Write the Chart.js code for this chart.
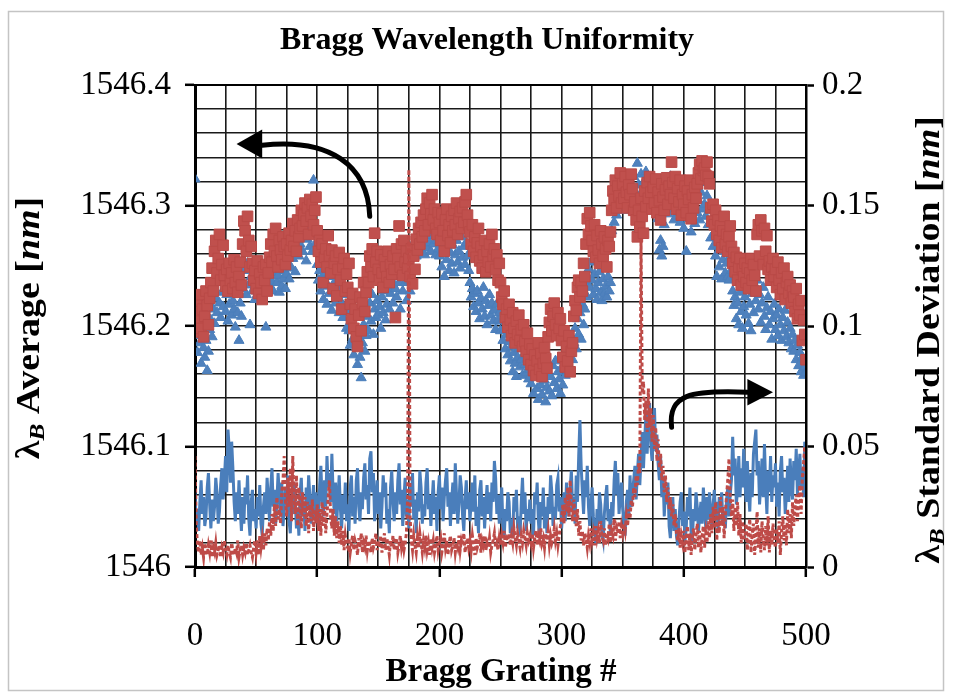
<!DOCTYPE html>
<html>
<head>
<meta charset="utf-8">
<title>Bragg Wavelength Uniformity</title>
<script src="https://cdn.jsdelivr.net/npm/chart.js@4.4.1/dist/chart.umd.min.js"></script>
<style>
  html, body { margin: 0; padding: 0; background: #fff; }
  #wrap { position: relative; width: 954px; height: 698px; }
</style>
</head>
<body>
<div id="wrap"><canvas id="bragg-chart"></canvas></div>
<script>
// grating index along the fibre
const gratings = Array.from({ length: 501 }, (_, i) => i);

// average Bragg wavelength, run 1 (nm)
const avgBlue = [
  1546.322,1546.192,1546.178,1546.201,1546.186,1546.169,1546.195,1546.182,1546.174,1546.188,1546.163,1546.179,1546.197,1546.205,1546.191,1546.214,1546.202,1546.223,1546.211,1546.236,1546.219,1546.207,1546.228,1546.216,1546.243,
  1546.212,1546.226,1546.204,1546.218,1546.232,1546.209,1546.221,1546.214,1546.199,1546.227,1546.211,1546.188,1546.219,1546.208,1546.231,1546.246,1546.278,1546.226,1546.252,1546.234,1546.201,1546.241,1546.229,1546.238,1546.222,
  1546.235,1546.226,1546.247,1546.231,1546.222,1546.238,1546.243,1546.229,1546.199,1546.236,1546.241,1546.232,1546.248,1546.237,1546.229,1546.244,1546.251,1546.236,1546.242,1546.228,1546.247,1546.233,1546.239,1546.246,1546.231,
  1546.243,1546.252,1546.239,1546.261,1546.248,1546.256,1546.271,1546.245,1546.263,1546.279,1546.258,1546.268,1546.283,1546.262,1546.276,1546.287,1546.254,1546.272,1546.281,1546.266,1546.276,1546.262,1546.321,1546.284,1546.269,
  1546.251,1546.238,1546.246,1546.229,1546.241,1546.222,1546.236,1546.244,1546.218,1546.233,1546.227,1546.241,1546.213,1546.229,1546.236,1546.219,1546.232,1546.224,1546.211,1546.228,1546.219,1546.207,1546.226,1546.216,1546.198,
  1546.211,1546.196,1546.184,1546.204,1546.189,1546.176,1546.197,1546.182,1546.168,1546.191,1546.174,1546.157,1546.186,1546.201,1546.179,1546.192,1546.208,1546.196,1546.219,1546.204,1546.226,1546.193,1546.214,1546.207,1546.221,
  1546.209,1546.216,1546.198,1546.224,1546.211,1546.229,1546.205,1546.218,1546.232,1546.214,1546.227,1546.238,1546.219,1546.246,1546.231,1546.224,1546.252,1546.236,1546.214,1546.241,1546.229,1546.247,1546.236,1546.221,1546.243,
  1546.238,1546.229,1546.246,1546.257,1546.262,1546.271,1546.258,1546.266,1546.274,1546.261,1546.279,1546.268,1546.272,1546.259,1546.276,1546.265,1546.281,1546.269,1546.262,1546.275,1546.268,1546.277,1546.259,1546.271,1546.264,
  1546.258,1546.272,1546.249,1546.263,1546.241,1546.268,1546.255,1546.274,1546.246,1546.261,1546.252,1546.267,1546.244,1546.259,1546.271,1546.253,1546.262,1546.248,1546.274,1546.257,1546.266,1546.251,1546.269,1546.258,1546.246,
  1546.236,1546.224,1546.231,1546.216,1546.227,1546.212,1546.229,1546.219,1546.206,1546.223,1546.214,1546.232,1546.208,1546.221,1546.201,1546.217,1546.226,1546.209,1546.219,1546.204,1546.213,1546.197,1546.218,1546.205,1546.211,
  1546.196,1546.204,1546.188,1546.197,1546.181,1546.193,1546.176,1546.187,1546.171,1546.183,1546.162,1546.178,1546.169,1546.158,1546.174,1546.181,1546.166,1546.172,1546.159,1546.176,1546.168,1546.161,1546.173,1546.156,1546.164,
  1546.152,1546.166,1546.144,1546.158,1546.171,1546.148,1546.139,1546.162,1546.151,1546.143,1546.168,1546.155,1546.137,1546.149,1546.161,1546.146,1546.158,1546.142,1546.167,1546.153,1546.171,1546.148,1546.162,1546.156,1546.144,
  1546.165,1546.151,1546.174,1546.159,1546.168,1546.182,1546.163,1546.177,1546.191,1546.172,1546.186,1546.198,1546.181,1546.206,1546.193,1546.211,1546.189,1546.218,1546.201,1546.214,1546.236,1546.224,1546.247,1546.232,1546.253,
  1546.238,1546.226,1546.243,1546.231,1546.222,1546.236,1546.245,1546.228,1546.221,1546.239,1546.227,1546.233,1546.224,1546.241,1546.229,1546.236,1546.279,1546.298,1546.286,1546.304,1546.292,1546.311,1546.297,1546.318,1546.303,
  1546.309,1546.296,1546.314,1546.302,1546.321,1546.306,1546.299,1546.316,1546.308,1546.324,1546.311,1546.302,1546.335,1546.317,1546.306,1546.326,1546.312,1546.319,1546.304,1546.328,1546.314,1546.307,1546.322,1546.309,1546.316,
  1546.305,1546.318,1546.296,1546.311,1546.289,1546.263,1546.271,1546.258,1546.266,1546.284,1546.302,1546.316,1546.293,1546.309,1546.324,1546.297,1546.312,1546.288,1546.305,1546.318,1546.294,1546.307,1546.286,1546.314,1546.299,
  1546.281,1546.296,1546.262,1546.305,1546.289,1546.312,1546.278,1546.298,1546.307,1546.285,1546.316,1546.294,1546.304,1546.288,1546.311,1546.297,1546.319,1546.301,1546.291,1546.308,1546.284,1546.296,1546.273,1546.288,1546.266,
  1546.276,1546.258,1546.241,1546.267,1546.249,1546.271,1546.239,1546.255,1546.262,1546.244,1546.252,1546.241,1546.238,1546.258,1546.246,1546.229,1546.217,1546.224,1546.206,1546.219,1546.201,1546.228,1546.212,1546.198,1546.216,
  1546.224,1546.209,1546.231,1546.202,1546.218,1546.196,1546.227,1546.211,1546.234,1546.221,1546.238,1546.214,1546.226,1546.203,1546.219,1546.232,1546.208,1546.197,1546.215,1546.224,1546.201,1546.212,1546.189,1546.206,1546.218,
  1546.197,1546.209,1546.192,1546.214,1546.201,1546.188,1546.207,1546.196,1546.213,1546.191,1546.203,1546.186,1546.198,1546.181,1546.193,1546.179,1546.188,1546.172,1546.184,1546.167,1546.178,1546.162,1546.174,1546.159,1546.166,
  1546.161
];

// average Bragg wavelength, run 2 (nm)
const avgRed = [
  1546.212,1546.195,1546.221,1546.204,1546.226,1546.198,1546.214,1546.191,1546.208,1546.229,1546.217,1546.201,1546.223,1546.236,1546.248,1546.229,1546.262,1546.271,1546.244,1546.256,1546.276,1546.238,1546.251,1546.267,1546.242,
  1546.233,1546.247,1546.229,1546.252,1546.238,1546.244,1546.231,1546.255,1546.236,1546.249,1546.228,1546.241,1546.253,1546.234,1546.268,1546.287,1546.279,1546.262,1546.291,1546.271,1546.249,1546.266,1546.252,1546.238,1546.246,
  1546.231,1546.254,1546.227,1546.243,1546.236,1546.222,1546.249,1546.238,1546.251,1546.229,1546.244,1546.257,1546.268,1546.253,1546.276,1546.262,1546.281,1546.258,1546.249,1546.271,1546.263,1546.255,1546.274,1546.266,1546.251,
  1546.268,1546.258,1546.277,1546.263,1546.271,1546.285,1546.266,1546.279,1546.262,1546.288,1546.274,1546.281,1546.296,1546.283,1546.292,1546.302,1546.287,1546.298,1546.276,1546.305,1546.291,1546.301,1546.284,1546.296,1546.307,
  1546.279,1546.262,1546.271,1546.253,1546.268,1546.236,1546.257,1546.264,1546.249,1546.275,1546.258,1546.244,1546.263,1546.231,1546.252,1546.258,1546.225,1546.247,1546.261,1546.238,1546.214,1546.249,1546.256,1546.229,1546.243,
  1546.232,1546.252,1546.218,1546.206,1546.227,1546.198,1546.214,1546.191,1546.183,1546.209,1546.224,1546.196,1546.219,1546.236,1546.212,1546.228,1546.245,1546.236,1546.258,1546.249,1546.264,1546.241,1546.277,1546.253,1546.262,
  1546.247,1546.238,1546.259,1546.244,1546.232,1546.255,1546.249,1546.241,1546.262,1546.236,1546.251,1546.243,1546.258,1546.247,1546.207,1546.264,1546.256,1546.283,1546.249,1546.268,1546.242,1546.271,1546.253,1546.262,1546.248,
  1546.256,1546.241,1546.264,1546.235,1546.258,1546.247,1546.272,1546.263,1546.281,1546.268,1546.286,1546.274,1546.292,1546.279,1546.297,1546.306,1546.284,1546.302,1546.293,1546.309,1546.288,1546.297,1546.281,1546.276,1546.294,
  1546.286,1546.271,1546.293,1546.279,1546.262,1546.288,1546.297,1546.275,1546.284,1546.269,1546.291,1546.279,1546.296,1546.284,1546.302,1546.276,1546.289,1546.295,1546.281,1546.298,1546.286,1546.303,1546.309,1546.292,1546.284,
  1546.278,1546.268,1546.284,1546.262,1546.274,1546.257,1546.269,1546.281,1546.254,1546.266,1546.248,1546.259,1546.271,1546.245,1546.262,1546.253,1546.268,1546.249,1546.276,1546.258,1546.264,1546.247,1546.259,1546.238,1546.252,
  1546.236,1546.224,1546.218,1546.229,1546.207,1546.214,1546.199,1546.218,1546.205,1546.192,1546.211,1546.198,1546.186,1546.204,1546.193,1546.209,1546.188,1546.197,1546.183,1546.201,1546.187,1546.179,1546.194,1546.172,1546.185,
  1546.168,1546.181,1546.163,1546.176,1546.159,1546.171,1546.186,1546.164,1546.177,1546.158,1546.169,1546.182,1546.173,1546.165,1546.191,1546.203,1546.214,1546.196,1546.208,1546.219,1546.201,1546.192,1546.211,1546.198,1546.206,
  1546.188,1546.174,1546.196,1546.166,1546.183,1546.171,1546.192,1546.162,1546.179,1546.186,1546.208,1546.221,1546.213,1546.232,1546.238,1546.224,1546.236,1546.229,1546.252,1546.241,1546.268,1546.289,1546.276,1546.294,1546.283,
  1546.271,1546.262,1546.284,1546.257,1546.275,1546.263,1546.252,1546.279,1546.268,1546.258,1546.274,1546.264,1546.249,1546.271,1546.266,1546.278,1546.296,1546.312,1546.305,1546.321,1546.298,1546.316,1546.308,1546.327,1546.302,
  1546.318,1546.306,1546.324,1546.311,1546.298,1546.317,1546.309,1546.326,1546.314,1546.296,1546.303,1546.288,1546.274,1546.296,1546.282,1546.306,1546.291,1546.277,1546.312,1546.299,1546.319,1546.306,1546.324,1546.311,1546.297,
  1546.315,1546.302,1546.322,1546.294,1546.311,1546.304,1546.288,1546.318,1546.307,1546.296,1546.313,1546.323,1546.301,1546.316,1546.309,1546.336,1546.319,1546.306,1546.324,1546.297,1546.314,1546.303,1546.321,1546.292,1546.309,
  1546.301,1546.316,1546.294,1546.312,1546.305,1546.321,1546.289,1546.309,1546.298,1546.315,1546.306,1546.318,1546.327,1546.334,1546.322,1546.337,1546.329,1546.331,1546.325,1546.336,1546.324,1546.318,1546.298,1546.287,1546.301,
  1546.284,1546.296,1546.276,1546.288,1546.271,1546.283,1546.265,1546.279,1546.291,1546.268,1546.276,1546.262,1546.274,1546.283,1546.266,1546.252,1546.261,1546.245,1546.257,1546.238,1546.249,1546.256,1546.234,1546.247,1546.241,
  1546.252,1546.236,1546.248,1546.231,1546.244,1546.256,1546.238,1546.251,1546.242,1546.229,1546.276,1546.284,1546.258,1546.288,1546.279,1546.251,1546.281,1546.262,1546.275,1546.247,1546.254,1546.238,1546.249,1546.256,1546.241,
  1546.247,1546.232,1546.253,1546.238,1546.226,1546.244,1546.231,1546.248,1546.222,1546.236,1546.241,1546.227,1546.234,1546.219,1546.229,1546.224,1546.212,1546.231,1546.206,1546.218,1546.209,1546.221,1546.188,1546.205,1546.193,
  1546.172
];

// standard deviation of the Bragg wavelength, run 1 (nm)
const stdBlue = [
  .031,.018,.024,.015,.027,.036,.022,.029,.017,.021,.033,.039,.026,.016,.028,.019,.025,.037,.031,.018,.023,.034,.041,.028,.036,
  .046,.031,.057,.049,.035,.052,.041,.027,.019,.031,.022,.036,.024,.015,.029,.018,.033,.026,.038,.02,.013,.027,.032,.019,.024,
  .016,.029,.021,.034,.018,.013,.025,.031,.022,.037,.028,.019,.033,.041,.025,.032,.018,.027,.039,.03,.021,.035,.017,.024,.033,
  .026,.038,.019,.014,.029,.022,.035,.028,.016,.024,.013,.031,.037,.021,.027,.015,.033,.024,.038,.029,.018,.026,.034,.02,.031,
  .023,.017,.034,.042,.028,.021,.036,.025,.046,.033,.039,.027,.047,.031,.022,.035,.019,.028,.038,.024,.016,.03,.022,.035,.019,
  .026,.015,.033,.038,.021,.029,.018,.036,.041,.025,.019,.031,.024,.037,.043,.028,.034,.022,.045,.048,.031,.039,.019,.027,.036,
  .022,.031,.016,.025,.038,.029,.035,.018,.024,.014,.033,.04,.027,.019,.031,.022,.036,.043,.026,.032,.017,.029,.037,.021,.028,
  .016,.034,.025,.039,.02,.028,.014,.031,.023,.04,.033,.018,.026,.021,.035,.041,.024,.03,.017,.027,.036,.022,.029,.015,.031,
  .038,.024,.033,.019,.029,.036,.041,.025,.031,.017,.027,.035,.022,.043,.03,.018,.026,.038,.033,.021,.015,.028,.036,.024,.031,
  .019,.027,.035,.023,.038,.017,.025,.014,.032,.036,.021,.029,.016,.026,.034,.022,.031,.019,.035,.027,.044,.037,.022,.03,.018,
  .026,.033,.017,.012,.024,.019,.031,.027,.014,.02,.012,.029,.023,.032,.016,.021,.013,.027,.037,.022,.031,.015,.024,.019,.028,
  .018,.024,.013,.031,.026,.035,.019,.012,.027,.021,.033,.016,.025,.014,.029,.022,.038,.031,.017,.025,.02,.034,.037,.023,.029,
  .016,.023,.031,.019,.035,.026,.021,.033,.04,.024,.029,.018,.038,.027,.046,.061,.042,.031,.022,.036,.029,.042,.025,.017,.026,
  .033,.021,.015,.01,.024,.018,.031,.026,.014,.011,.022,.029,.034,.019,.024,.013,.027,.021,.036,.044,.03,.039,.022,.029,.035,
  .024,.018,.013,.027,.032,.021,.038,.025,.031,.036,.042,.028,.039,.047,.034,.045,.056,.041,.053,.063,.047,.059,.068,.051,.044,
  .061,.066,.048,.055,.043,.036,.046,.029,.038,.021,.031,.026,.035,.017,.012,.022,.029,.015,.024,.013,.009,.019,.027,.031,.017,
  .023,.011,.016,.029,.021,.033,.014,.01,.024,.019,.031,.025,.015,.021,.027,.018,.033,.024,.016,.029,.02,.031,.022,.017,.026,
  .032,.021,.027,.015,.029,.024,.031,.018,.023,.016,.028,.033,.021,.03,.036,.054,.038,.045,.026,.032,.046,.029,.041,.033,.049,
  .036,.027,.044,.031,.023,.039,.029,.047,.052,.057,.038,.044,.026,.035,.045,.029,.051,.034,.022,.04,.031,.046,.027,.038,.033,
  .043,.025,.035,.021,.04,.046,.031,.037,.022,.03,.042,.027,.045,.034,.028,.044,.036,.049,.03,.039,.047,.033,.041,.029,.052,
  .044
];

// standard deviation of the Bragg wavelength, run 2 (nm)
const stdRed = [
  .046,.018,.009,.006,.011,.005,.008,.004,.01,.007,.005,.009,.006,.011,.004,.008,.006,.01,.005,.007,.009,.004,.008,.006,.011,
  .007,.005,.009,.006,.004,.01,.007,.005,.008,.006,.011,.004,.007,.009,.005,.008,.006,.01,.005,.007,.009,.006,.004,.008,.011,
  .006,.011,.005,.013,.008,.012,.007,.014,.009,.016,.011,.019,.013,.022,.015,.026,.017,.029,.02,.024,.018,.031,.036,.046,.027,
  .021,.037,.025,.041,.019,.046,.028,.022,.038,.017,.033,.026,.016,.031,.021,.029,.017,.027,.014,.026,.019,.028,.015,.024,.018,
  .026,.015,.024,.013,.027,.017,.025,.014,.022,.029,.036,.021,.016,.024,.013,.021,.012,.019,.01,.017,.009,.015,.007,.013,.009,
  .008,.012,.006,.01,.013,.007,.011,.009,.005,.012,.008,.014,.006,.01,.008,.013,.007,.011,.009,.006,.012,.008,.01,.014,.007,
  .011,.008,.013,.006,.01,.014,.007,.012,.009,.005,.011,.008,.013,.007,.01,.012,.006,.009,.013,.008,.011,.007,.01,.014,.029,
  .165,.021,.011,.007,.013,.009,.006,.012,.008,.014,.01,.006,.011,.008,.013,.007,.01,.005,.012,.008,.011,.006,.009,.013,.007,
  .01,.012,.006,.009,.014,.008,.011,.005,.01,.013,.007,.009,.012,.006,.01,.008,.013,.007,.011,.009,.014,.006,.01,.012,.008,
  .011,.007,.013,.009,.005,.012,.008,.01,.014,.006,.011,.009,.013,.007,.01,.008,.012,.006,.009,.011,.014,.008,.01,.007,.012,
  .009,.013,.01,.015,.008,.012,.011,.014,.009,.013,.01,.016,.012,.009,.014,.011,.008,.013,.01,.015,.012,.009,.014,.011,.013,
  .01,.014,.008,.012,.015,.009,.013,.011,.016,.01,.012,.008,.014,.011,.015,.009,.013,.01,.012,.016,.011,.014,.009,.013,.017,
  .02,.026,.018,.029,.023,.033,.021,.036,.025,.019,.028,.022,.017,.024,.013,.019,.011,.015,.009,.014,.012,.008,.013,.01,.016,
  .011,.014,.009,.017,.012,.015,.01,.019,.013,.011,.016,.009,.014,.012,.018,.01,.015,.013,.02,.011,.016,.014,.019,.012,.017,
  .014,.018,.015,.021,.017,.024,.02,.028,.025,.033,.029,.038,.034,.043,.039,.136,.072,.077,.061,.069,.056,.074,.058,.066,.052,
  .063,.049,.058,.044,.053,.041,.047,.036,.042,.031,.038,.027,.033,.024,.029,.021,.026,.017,.022,.014,.011,.016,.008,.013,.01,
  .015,.006,.013,.017,.007,.014,.005,.012,.016,.007,.013,.018,.008,.015,.006,.013,.017,.008,.014,.01,.019,.012,.022,.014,.025,
  .016,.027,.011,.023,.014,.029,.017,.025,.012,.022,.03,.036,.045,.029,.021,.028,.015,.025,.017,.027,.013,.022,.01,.019,.012,
  .012,.018,.007,.015,.02,.006,.014,.018,.005,.013,.023,.008,.016,.006,.019,.012,.007,.017,.009,.021,.006,.015,.009,.018,.011,
  .008,.016,.01,.019,.005,.015,.021,.011,.018,.009,.024,.014,.022,.012,.027,.017,.025,.03,.019,.028,.034,.022,.037,.043,.05,
  .038
];

// axis ranges
const xRange = [0, 500];
const avgRange = [1546, 1546.4];
const stdRange = [0, 0.2];

// curved pointer arrows, in (grating, nm) units: start of the tail, two control points, end of the shaft, tip
const leftArrow = { tail: [143, 1546.291], c1: [141.5, 1546.334], c2: [110, 1546.356], shaft: [55, 1546.350], tip: [34, 1546.351], headHalf: 0.012 };
const rightArrow = { tail: [390, 1546.116], c1: [387, 1546.143], c2: [405, 1546.147], shaft: [452, 1546.145], tip: [473, 1546.145], headHalf: 0.011 };

const serif = '"Liberation Serif", "Times New Roman", serif';
const blue = '#4a7ebb';
const red = '#be4b48';

const toPoints = (vals) => vals.map((v, i) => ({ x: gratings[i], y: v }));
const isMultiple = (v, step) => Math.abs(v / step - Math.round(v / step)) < 1e-6;

// draws a run of text pieces (font / vertical shift) centred on x,y
function drawRich(ctx, parts, x, y, angle, stretch) {
  ctx.save();
  ctx.translate(x, y);
  ctx.rotate(angle);
  ctx.scale(stretch, 1);
  ctx.textBaseline = 'middle';
  ctx.textAlign = 'left';
  ctx.fillStyle = '#000';
  let total = 0;
  parts.forEach(p => { ctx.font = p.font; total += ctx.measureText(p.text).width; });
  let cx = -total / 2;
  parts.forEach(p => {
    ctx.font = p.font;
    ctx.fillText(p.text, cx, p.dy || 0);
    cx += ctx.measureText(p.text).width;
  });
  ctx.restore();
}

function drawArrow(ctx, xs, ys, a) {
  const P = (pt) => [xs.getPixelForValue(pt[0]), ys.getPixelForValue(pt[1])];
  const t = P(a.tail), c1 = P(a.c1), c2 = P(a.c2), s = P(a.shaft), tip = P(a.tip);
  const hh = Math.abs(ys.getPixelForValue(a.tip[1] + a.headHalf) - tip[1]);
  ctx.save();
  ctx.strokeStyle = '#000';
  ctx.fillStyle = '#000';
  ctx.lineWidth = 5;
  ctx.lineCap = 'round';
  ctx.beginPath();
  ctx.moveTo(t[0], t[1]);
  ctx.bezierCurveTo(c1[0], c1[1], c2[0], c2[1], s[0], s[1]);
  ctx.stroke();
  ctx.beginPath();
  ctx.moveTo(tip[0], tip[1]);
  ctx.lineTo(s[0], tip[1] - hh);
  ctx.lineTo(s[0], tip[1] + hh);
  ctx.closePath();
  ctx.fill();
  ctx.restore();
}

const decorations = {
  id: 'decorations',
  beforeDraw(chart) {
    const ctx = chart.ctx;
    ctx.save();
    ctx.fillStyle = '#fff';
    ctx.fillRect(0, 0, chart.width, chart.height);
    ctx.strokeStyle = '#c4c4c4';
    ctx.lineWidth = 1.5;
    ctx.strokeRect(8.5, 11.5, 935, 679);
    ctx.restore();
  },
  afterDatasetsDraw(chart) {
    const { ctx, chartArea: ca, scales } = chart;
    drawArrow(ctx, scales.x, scales.y, leftArrow);
    drawArrow(ctx, scales.x, scales.y, rightArrow);
    // plot frame
    ctx.save();
    ctx.strokeStyle = '#000';
    ctx.lineWidth = 2;
    ctx.strokeRect(ca.left, ca.top, ca.right - ca.left, ca.bottom - ca.top);
    ctx.restore();
  },
  afterDraw(chart) {
    const { ctx, chartArea: ca } = chart;
    const big = 'bold 33px ' + serif;
    const bigIt = 'italic bold 33px ' + serif;
    const sub = 'italic bold 22px ' + serif;
    drawRich(ctx, [{ text: 'Bragg Wavelength Uniformity', font: 'bold 32px ' + serif }], 487, 41, 0, 1);
    drawRich(ctx, [{ text: 'Bragg Grating #', font: big }], 501, 672, 0, 1);
    const cy = (ca.top + ca.bottom) / 2;
    drawRich(ctx, [
      { text: 'λ', font: big }, { text: 'B', font: sub, dy: 8 },
      { text: ' Average [', font: big }, { text: 'nm', font: bigIt }, { text: ']', font: big }
    ], 30, cy + 2, -Math.PI / 2, 1.15);
    drawRich(ctx, [
      { text: 'λ', font: big }, { text: 'B', font: sub, dy: 8 },
      { text: ' Standard Deviation [', font: big }, { text: 'nm', font: bigIt }, { text: ']', font: big }
    ], 930, cy + 14, -Math.PI / 2, 1.15);
  }
};

const tickFont = { family: serif, size: 33 };

new Chart(document.getElementById('bragg-chart'), {
  type: 'scatter',
  data: {
    datasets: [
      {
        label: 'Std dev run 1',
        data: toPoints(stdBlue),
        yAxisID: 'y2',
        showLine: true,
        borderColor: blue,
        borderWidth: 3,
        pointRadius: 0,
        order: 2
      },
      {
        label: 'Std dev run 2',
        data: toPoints(stdRed),
        yAxisID: 'y2',
        showLine: true,
        borderColor: red,
        borderWidth: 3,
        borderDash: [4, 2.5],
        pointRadius: 0,
        order: 1
      },
      {
        label: 'Average run 2',
        data: toPoints(avgRed),
        yAxisID: 'y',
        pointStyle: 'rect',
        pointRadius: 7.5,
        backgroundColor: '#c0504d',
        borderColor: '#b94a47',
        borderWidth: 1,
        order: 3
      },
      {
        label: 'Average run 1',
        data: toPoints(avgBlue),
        yAxisID: 'y',
        pointStyle: 'triangle',
        pointRadius: 5.8,
        backgroundColor: '#4f81bd',
        borderColor: blue,
        borderWidth: 1,
        order: 4
      }
    ]
  },
  options: {
    responsive: true,
    maintainAspectRatio: false,
    devicePixelRatio: 1,
    animation: false,
    events: [],
    layout: { padding: { top: 85, left: 0, right: 0, bottom: 0 }, autoPadding: false },
    plugins: { legend: { display: false }, tooltip: { enabled: false }, title: { display: false } },
    scales: {
      x: {
        type: 'linear',
        min: xRange[0],
        max: xRange[1],
        afterFit: (s) => { s.height = 131; },
        border: { color: '#000', width: 3 },
        grid: {
          color: '#1a1a1a',
          lineWidth: 1.6,
          tickLength: 10,
          tickWidth: 2.5,
          tickColor: (c) => (isMultiple(c.tick.value, 100) ? '#000' : 'rgba(0,0,0,0)')
        },
        ticks: {
          stepSize: 25,
          autoSkip: false,
          maxRotation: 0,
          padding: 40,
          color: '#000',
          font: tickFont,
          callback: (v) => (isMultiple(v, 100) ? String(Math.round(v)) : '')
        }
      },
      y: {
        type: 'linear',
        position: 'left',
        min: avgRange[0],
        max: avgRange[1],
        afterFit: (s) => { s.width = 195; },
        border: { color: '#000', width: 3 },
        grid: {
          color: '#1a1a1a',
          lineWidth: 1.6,
          tickLength: 10,
          tickWidth: 2.5,
          tickColor: (c) => (isMultiple(c.tick.value, 0.1) ? '#000' : 'rgba(0,0,0,0)')
        },
        ticks: {
          stepSize: 0.02,
          autoSkip: false,
          padding: 14,
          color: '#000',
          font: tickFont,
          callback: (v) => (isMultiple(v, 0.1) ? String(Math.round(v * 10) / 10) : '')
        }
      },
      y2: {
        type: 'linear',
        position: 'right',
        min: stdRange[0],
        max: stdRange[1],
        afterFit: (s) => { s.width = 148; },
        border: { color: '#000', width: 2.5 },
        grid: { drawOnChartArea: false, tickLength: 8, tickWidth: 2.5, tickColor: '#000' },
        ticks: {
          stepSize: 0.05,
          autoSkip: false,
          padding: 8,
          color: '#000',
          font: tickFont,
          callback: (v) => String(Math.round(v * 100) / 100)
        }
      }
    }
  },
  plugins: [decorations]
});
</script>
</body>
</html>
